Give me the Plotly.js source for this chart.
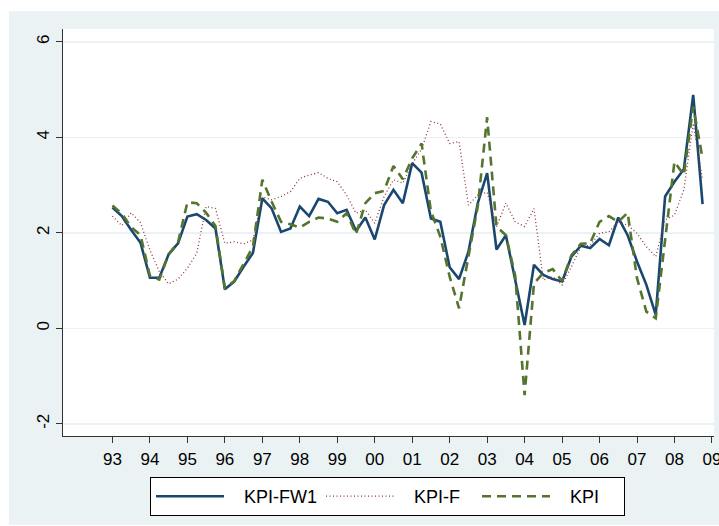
<!DOCTYPE html>
<html>
<head>
<meta charset="utf-8">
<script src="https://cdn.plot.ly/plotly-3.0.1.min.js"></script>
<style>
  html, body { margin: 0; padding: 0; background: #ffffff; }
  #chart { width: 719px; height: 526px; }
</style>
</head>
<body>
<div id="chart"></div>
<script>
// Quarterly series, 1993Q1 .. 2008Q4
const startYear = 1993;
const tickYears = [1993, 1994, 1995, 1996, 1997, 1998, 1999, 2000, 2001, 2002, 2003, 2004, 2005, 2006, 2007, 2008, 2009];
const tickLabels = ['93', '94', '95', '96', '97', '98', '99', '00', '01', '02', '03', '04', '05', '06', '07', '08', '09'];
const seriesNames = ['KPI-FW1', 'KPI-F', 'KPI'];

const kpiFW1 = [2.53, 2.35, 2.06, 1.79, 1.06, 1.06, 1.55, 1.78, 2.34, 2.39,
                2.27, 2.09, 0.82, 0.98, 1.29, 1.58, 2.72, 2.51, 2.02, 2.09,
                2.55, 2.35, 2.71, 2.65, 2.41, 2.48, 2.04, 2.32, 1.86, 2.58,
                2.90, 2.62, 3.46, 3.26, 2.30, 2.23, 1.28, 1.03, 1.60, 2.62,
                3.25, 1.65, 1.95, 1.01, 0.07, 1.33, 1.12, 1.03, 0.98, 1.50,
                1.73, 1.68, 1.87, 1.74, 2.32, 1.95, 1.40, 0.91, 0.28, 2.76,
                3.07, 3.33, 4.89, 2.60];

const kpiF = [2.35, 2.15, 2.42, 2.21, 1.64, 1.19, 0.93, 1.03, 1.26, 1.57,
              2.55, 2.51, 1.78, 1.81, 1.77, 1.85, 2.75, 2.69, 2.76, 2.86,
              3.14, 3.21, 3.26, 3.14, 3.07, 2.79, 2.41, 2.48, 2.20, 2.76,
              3.11, 3.04, 3.45, 3.75, 4.33, 4.28, 3.87, 3.91, 2.58, 2.79,
              2.85, 2.13, 2.62, 2.23, 2.13, 2.51, 1.01, 1.08, 0.91, 1.29,
              1.71, 1.74, 1.99, 2.02, 2.23, 2.16, 1.99, 1.71, 1.50, 2.27,
              2.37, 2.90, 4.29, 3.11];

const kpi = [2.57, 2.40, 2.12, 1.95, 1.10, 1.02, 1.55, 1.80, 2.64, 2.62,
             2.42, 2.14, 0.84, 0.99, 1.35, 1.71, 3.11, 2.65, 2.23, 2.18,
             2.11, 2.23, 2.32, 2.30, 2.23, 2.41, 1.97, 2.62, 2.83, 2.88,
             3.40, 3.12, 3.56, 3.87, 2.45, 1.92, 1.08, 0.42, 1.50, 2.55,
             4.42, 2.13, 1.95, 1.10, -1.40, 0.94, 1.16, 1.24, 0.99, 1.53,
             1.77, 1.78, 2.23, 2.35, 2.23, 2.42, 1.05, 0.35, 0.21, 1.85,
             3.49, 3.21, 4.64, 3.56];

// time index: year + (quarter-1)/4
const t = kpiFW1.map((_, i) => startYear + i / 4);

const font = "'Liberation Sans', Arial, sans-serif";
const pad = '\u00A0\u00A0\u00A0';

const traces = [
  { x: t, y: kpiFW1, type: 'scatter', mode: 'lines', name: pad + seriesNames[0],
    legendwidth: 87,
    line: { color: '#1a476f', width: 2.6 } },
  { x: t, y: kpiF, type: 'scatter', mode: 'lines', name: pad + seriesNames[1],
    legendwidth: 73,
    line: { color: '#90353b', width: 1.3, dash: '1px,2.5px' } },
  { x: t, y: kpi, type: 'scatter', mode: 'lines', name: pad + seriesNames[2],
    legendwidth: 64,
    line: { color: '#55752f', width: 2.6, dash: '9px,6px' } }
];

const layout = {
  width: 719, height: 526,
  margin: { l: 63, r: 5, t: 29, b: 90, pad: 0 },
  paper_bgcolor: '#ffffff',
  plot_bgcolor: '#ffffff',
  font: { family: font, size: 17, color: '#000000' },
  showlegend: true,
  xaxis: {
    range: [1991.68, 2009.055],
    tickmode: 'array', tickvals: tickYears, ticktext: tickLabels,
    ticklabeloverflow: 'allow',
    ticklabelstandoff: 2,
    ticks: 'outside', ticklen: 6, tickwidth: 1, tickcolor: '#333333',
    showgrid: false, zeroline: false,
    showline: true, linecolor: '#333333', linewidth: 1,
    tickfont: { family: font, size: 17, color: '#000000' }
  },
  yaxis: {
    range: [-2.255, 6.268],
    tickmode: 'array', tickvals: [-2, 0, 2, 4, 6], ticktext: ['-2', '0', '2', '4', '6'],
    tickangle: -90,
    ticks: 'outside', ticklen: 6, tickwidth: 1, tickcolor: '#333333',
    showgrid: true, gridcolor: '#EAF2F3', gridwidth: 1.5,
    zeroline: false,
    showline: true, linecolor: '#333333', linewidth: 1,
    tickfont: { family: font, size: 17, color: '#000000' }
  },
  legend: {
    orientation: 'h',
    x: (150 - 63) / 651, xanchor: 'left',
    y: -0.1007, yanchor: 'top',
    bgcolor: '#ffffff', bordercolor: '#000000', borderwidth: 1,
    itemwidth: 68,
    font: { family: font, size: 18, color: '#000000' },
    traceorder: 'normal'
  },
  shapes: [
    { type: 'rect', xref: 'paper', yref: 'paper', layer: 'below',
      x0: -0.0829, x1: 1.0077, y0: -0.2187, y1: 1.0442,
      fillcolor: '#EAF2F3', line: { width: 0 } },
    { type: 'rect', xref: 'paper', yref: 'paper', layer: 'below',
      x0: 0, x1: 1, y0: 0, y1: 1,
      fillcolor: '#ffffff', line: { width: 0 } }
  ]
};

Plotly.newPlot('chart', traces, layout, { displayModeBar: false, staticPlot: true });
</script>
</body>
</html>
